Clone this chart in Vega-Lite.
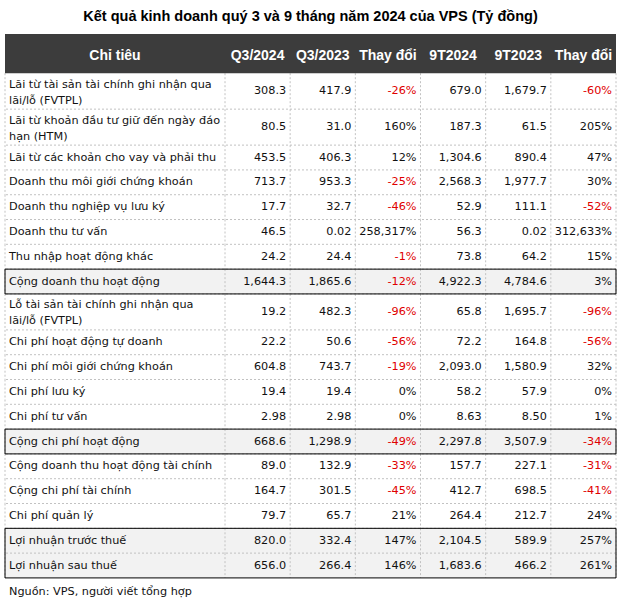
{
  "$schema": "https://vega.github.io/schema/vega-lite/v6.json",
  "width": 611,
  "height": 565,
  "autosize": {"type": "none"},
  "padding": {"left": 5, "top": 34, "right": 5, "bottom": 3},
  "background": "white",
  "title": {
    "text": "Kết quả kinh doanh quý 3 và 9 tháng năm 2024 của VPS (Tỷ đồng)",
    "font": "Liberation Sans",
    "fontSize": 14.5,
    "fontWeight": "bold",
    "color": "#000000",
    "anchor": "middle",
    "baseline": "alphabetic",
    "offset": 14,
    "dy": 15.5
  },
  "config": {
    "view": {"stroke": null},
    "text": {"font": "DejaVu Sans", "fontSize": 11.25}
  },
  "datasets": {
    "rows": [
      {"label": "Lãi từ tài sản tài chính ghi nhận qua\nlãi/lỗ (FVTPL)", "Q3/2024": "308.3", "Q3/2023": "417.9", "Thay đổi Q3": "-26%", "9T2024": "679.0", "9T2023": "1,679.7", "Thay đổi 9T": "-60%", "tong": false},
      {"label": "Lãi từ khoản đầu tư giữ đến ngày đáo\nhạn (HTM)", "Q3/2024": "80.5", "Q3/2023": "31.0", "Thay đổi Q3": "160%", "9T2024": "187.3", "9T2023": "61.5", "Thay đổi 9T": "205%", "tong": false},
      {"label": "Lãi từ các khoản cho vay và phải thu", "Q3/2024": "453.5", "Q3/2023": "406.3", "Thay đổi Q3": "12%", "9T2024": "1,304.6", "9T2023": "890.4", "Thay đổi 9T": "47%", "tong": false},
      {"label": "Doanh thu môi giới chứng khoán", "Q3/2024": "713.7", "Q3/2023": "953.3", "Thay đổi Q3": "-25%", "9T2024": "2,568.3", "9T2023": "1,977.7", "Thay đổi 9T": "30%", "tong": false},
      {"label": "Doanh thu nghiệp vụ lưu ký", "Q3/2024": "17.7", "Q3/2023": "32.7", "Thay đổi Q3": "-46%", "9T2024": "52.9", "9T2023": "111.1", "Thay đổi 9T": "-52%", "tong": false},
      {"label": "Doanh thu tư vấn", "Q3/2024": "46.5", "Q3/2023": "0.02", "Thay đổi Q3": "258,317%", "9T2024": "56.3", "9T2023": "0.02", "Thay đổi 9T": "312,633%", "tong": false},
      {"label": "Thu nhập hoạt động khác", "Q3/2024": "24.2", "Q3/2023": "24.4", "Thay đổi Q3": "-1%", "9T2024": "73.8", "9T2023": "64.2", "Thay đổi 9T": "15%", "tong": false},
      {"label": "Cộng doanh thu hoạt động", "Q3/2024": "1,644.3", "Q3/2023": "1,865.6", "Thay đổi Q3": "-12%", "9T2024": "4,922.3", "9T2023": "4,784.6", "Thay đổi 9T": "3%", "tong": true},
      {"label": "Lỗ tài sản tài chính ghi nhận qua\nlãi/lỗ (FVTPL)", "Q3/2024": "19.2", "Q3/2023": "482.3", "Thay đổi Q3": "-96%", "9T2024": "65.8", "9T2023": "1,695.7", "Thay đổi 9T": "-96%", "tong": false},
      {"label": "Chi phí hoạt động tự doanh", "Q3/2024": "22.2", "Q3/2023": "50.6", "Thay đổi Q3": "-56%", "9T2024": "72.2", "9T2023": "164.8", "Thay đổi 9T": "-56%", "tong": false},
      {"label": "Chi phí môi giới chứng khoán", "Q3/2024": "604.8", "Q3/2023": "743.7", "Thay đổi Q3": "-19%", "9T2024": "2,093.0", "9T2023": "1,580.9", "Thay đổi 9T": "32%", "tong": false},
      {"label": "Chi phí lưu ký", "Q3/2024": "19.4", "Q3/2023": "19.4", "Thay đổi Q3": "0%", "9T2024": "58.2", "9T2023": "57.9", "Thay đổi 9T": "0%", "tong": false},
      {"label": "Chi phí tư vấn", "Q3/2024": "2.98", "Q3/2023": "2.98", "Thay đổi Q3": "0%", "9T2024": "8.63", "9T2023": "8.50", "Thay đổi 9T": "1%", "tong": false},
      {"label": "Cộng chi phí hoạt động", "Q3/2024": "668.6", "Q3/2023": "1,298.9", "Thay đổi Q3": "-49%", "9T2024": "2,297.8", "9T2023": "3,507.9", "Thay đổi 9T": "-34%", "tong": true},
      {"label": "Cộng doanh thu hoạt động tài chính", "Q3/2024": "89.0", "Q3/2023": "132.9", "Thay đổi Q3": "-33%", "9T2024": "157.7", "9T2023": "227.1", "Thay đổi 9T": "-31%", "tong": false},
      {"label": "Cộng chi phí tài chính", "Q3/2024": "164.7", "Q3/2023": "301.5", "Thay đổi Q3": "-45%", "9T2024": "412.7", "9T2023": "698.5", "Thay đổi 9T": "-41%", "tong": false},
      {"label": "Chi phí quản lý", "Q3/2024": "79.7", "Q3/2023": "65.7", "Thay đổi Q3": "21%", "9T2024": "264.4", "9T2023": "212.7", "Thay đổi 9T": "24%", "tong": false},
      {"label": "Lợi nhuận trước thuế", "Q3/2024": "820.0", "Q3/2023": "332.4", "Thay đổi Q3": "147%", "9T2024": "2,104.5", "9T2023": "589.9", "Thay đổi 9T": "257%", "tong": true},
      {"label": "Lợi nhuận sau thuế", "Q3/2024": "656.0", "Q3/2023": "266.4", "Thay đổi Q3": "146%", "9T2024": "1,683.6", "9T2023": "466.2", "Thay đổi 9T": "261%", "tong": true}
    ],
    "cols": [
      {"key": "Q3/2024", "name": "Q3/2024"},
      {"key": "Q3/2023", "name": "Q3/2023"},
      {"key": "Thay đổi Q3", "name": "Thay đổi"},
      {"key": "9T2024", "name": "9T2024"},
      {"key": "9T2023", "name": "9T2023"},
      {"key": "Thay đổi 9T", "name": "Thay đổi"}
    ],
    "source": [
      {"text": "Nguồn: VPS, người viết tổng hợp"}
    ]
  },
  "data": {"name": "rows"},
  "transform": [
    {"calculate": "test(/\\n/, datum.label) ? 2 : 1", "as": "lines"},
    {"calculate": "datum.lines > 1 ? 1.45 : 1", "as": "h"},
    {"calculate": "datum.tong ? 1 : 0", "as": "t"},
    {"window": [
      {"op": "sum", "field": "h", "as": "bottom"},
      {"op": "lag", "field": "t", "as": "prevT"},
      {"op": "lead", "field": "t", "as": "nextT"}
    ], "frame": [null, 0]},
    {"calculate": "datum.bottom - datum.h", "as": "top"},
    {"calculate": "datum.bottom - datum.h / 2", "as": "mid"},
    {"calculate": "datum.mid - (datum.lines - 1) * 0.26", "as": "labelY"}
  ],
  "encoding": {
    "y": {"type": "quantitative", "scale": {"domain": [-1.58, 21.2], "reverse": true, "zero": false, "nice": false}, "axis": null}
  },
  "resolve": {"scale": {"x": "independent"}},
  "layer": [
    {
      "transform": [{"filter": "datum.tong"}],
      "mark": {"type": "rect", "fill": "#f2f2f2"},
      "encoding": {"y": {"field": "top"}, "y2": {"field": "bottom"}}
    },
    {
      "transform": [{"filter": "datum.top > 0"}],
      "mark": {"type": "rule", "stroke": "#c2c2c2", "strokeWidth": 1, "strokeDash": [2, 2]},
      "encoding": {"y": {"field": "top"}}
    },
    {
      "transform": [{"fold": ["Q3/2024", "Q3/2023", "Thay đổi Q3", "9T2024", "9T2023", "Thay đổi 9T"], "as": ["key", "value"]}],
      "mark": {"type": "rule", "stroke": "#c2c2c2", "strokeWidth": 1, "strokeDash": [2, 2]},
      "encoding": {
        "x": {"field": "key", "type": "nominal", "bandPosition": 0, "axis": null,
              "scale": {"type": "band", "domain": ["Q3/2024", "Q3/2023", "Thay đổi Q3", "9T2024", "9T2023", "Thay đổi 9T"], "paddingInner": 0, "paddingOuter": 0, "range": [220, 611]}},
        "y": {"field": "top"}, "y2": {"field": "bottom"}
      }
    },
    {
      "mark": {"type": "rule", "stroke": "#c2c2c2", "strokeWidth": 1, "strokeDash": [2, 2]},
      "encoding": {
        "x": {"datum": "Thay đổi 9T", "type": "nominal", "bandPosition": 1, "axis": null,
              "scale": {"type": "band", "domain": ["Q3/2024", "Q3/2023", "Thay đổi Q3", "9T2024", "9T2023", "Thay đổi 9T"], "paddingInner": 0, "paddingOuter": 0, "range": [220, 611]}},
        "y": {"field": "top"}, "y2": {"field": "bottom"}
      }
    },
    {
      "mark": {"type": "rule", "stroke": "#c2c2c2", "strokeWidth": 1, "strokeDash": [2, 2]},
      "encoding": {
        "x": {"datum": "Chỉ tiêu", "type": "nominal", "bandPosition": 0, "axis": null,
              "scale": {"type": "band", "domain": ["Chỉ tiêu"], "paddingInner": 0, "paddingOuter": 0, "range": [0, 220]}},
        "y": {"field": "top"}, "y2": {"field": "bottom"}
      }
    },
    {
      "transform": [{"filter": "datum.tong"}],
      "mark": {"type": "rule", "stroke": "#000000", "strokeWidth": 1},
      "encoding": {
        "x": {"datum": "Chỉ tiêu", "type": "nominal", "bandPosition": 0, "axis": null,
              "scale": {"type": "band", "domain": ["Chỉ tiêu"], "paddingInner": 0, "paddingOuter": 0, "range": [0, 220]}},
        "y": {"field": "top"}, "y2": {"field": "bottom"}
      }
    },
    {
      "transform": [{"filter": "datum.tong"}],
      "mark": {"type": "rule", "stroke": "#000000", "strokeWidth": 1},
      "encoding": {
        "x": {"datum": "Thay đổi 9T", "type": "nominal", "bandPosition": 1, "axis": null,
              "scale": {"type": "band", "domain": ["Q3/2024", "Q3/2023", "Thay đổi Q3", "9T2024", "9T2023", "Thay đổi 9T"], "paddingInner": 0, "paddingOuter": 0, "range": [220, 611]}},
        "y": {"field": "top"}, "y2": {"field": "bottom"}
      }
    },
    {
      "transform": [{"filter": "datum.tong && !datum.prevT"}],
      "mark": {"type": "rule", "stroke": "#000000", "strokeWidth": 1},
      "encoding": {"y": {"field": "top"}}
    },
    {
      "transform": [{"filter": "datum.tong && !datum.nextT"}],
      "mark": {"type": "rule", "stroke": "#000000", "strokeWidth": 1},
      "encoding": {"y": {"field": "bottom"}}
    },
    {
      "data": {"values": [{"part": "header"}]},
      "mark": {"type": "rect", "fill": "#3c3c3c"},
      "encoding": {"y": {"datum": -1.58}, "y2": {"datum": 0}}
    },
    {
      "mark": {"type": "text", "align": "left", "baseline": "middle", "dx": 4, "lineBreak": "\n", "lineHeight": 16, "color": "#111111"},
      "encoding": {
        "x": {"datum": "Chỉ tiêu", "type": "nominal", "bandPosition": 0, "axis": null,
              "scale": {"type": "band", "domain": ["Chỉ tiêu"], "paddingInner": 0, "paddingOuter": 0, "range": [0, 220]}},
        "y": {"field": "labelY"},
        "text": {"field": "label", "type": "nominal"}
      }
    },
    {
      "transform": [{"fold": ["Q3/2024", "Q3/2023", "Thay đổi Q3", "9T2024", "9T2023", "Thay đổi 9T"], "as": ["key", "value"]}],
      "mark": {"type": "text", "align": "right", "baseline": "middle", "dx": -4},
      "encoding": {
        "x": {"field": "key", "type": "nominal", "bandPosition": 1, "axis": null,
              "scale": {"type": "band", "domain": ["Q3/2024", "Q3/2023", "Thay đổi Q3", "9T2024", "9T2023", "Thay đổi 9T"], "paddingInner": 0, "paddingOuter": 0, "range": [220, 611]}},
        "y": {"field": "mid"},
        "text": {"field": "value", "type": "nominal"},
        "color": {"condition": {"test": "test(/^-/, datum.value)", "value": "#e00000"}, "value": "#111111"}
      }
    },
    {
      "data": {"name": "cols"},
      "mark": {"type": "text", "align": "center", "baseline": "middle", "font": "Liberation Sans", "fontSize": 14, "fontWeight": "bold", "color": "#ffffff"},
      "encoding": {
        "x": {"field": "key", "type": "nominal", "bandPosition": 0.5, "axis": null,
              "scale": {"type": "band", "domain": ["Q3/2024", "Q3/2023", "Thay đổi Q3", "9T2024", "9T2023", "Thay đổi 9T"], "paddingInner": 0, "paddingOuter": 0, "range": [220, 611]}},
        "y": {"datum": -0.7},
        "text": {"field": "name", "type": "nominal"}
      }
    },
    {
      "data": {"values": [{"name": "Chỉ tiêu"}]},
      "mark": {"type": "text", "align": "center", "baseline": "middle", "font": "Liberation Sans", "fontSize": 14, "fontWeight": "bold", "color": "#ffffff"},
      "encoding": {
        "x": {"field": "name", "type": "nominal", "bandPosition": 0.5, "axis": null,
              "scale": {"type": "band", "domain": ["Chỉ tiêu"], "paddingInner": 0, "paddingOuter": 0, "range": [0, 220]}},
        "y": {"datum": -0.7},
        "text": {"field": "name", "type": "nominal"}
      }
    },
    {
      "data": {"name": "source"},
      "mark": {"type": "text", "align": "left", "baseline": "middle", "dx": 4, "color": "#111111"},
      "encoding": {
        "x": {"datum": "Chỉ tiêu", "type": "nominal", "bandPosition": 0, "axis": null,
              "scale": {"type": "band", "domain": ["Chỉ tiêu"], "paddingInner": 0, "paddingOuter": 0, "range": [0, 220]}},
        "y": {"datum": 20.9},
        "text": {"field": "text", "type": "nominal"}
      }
    }
  ]
}
